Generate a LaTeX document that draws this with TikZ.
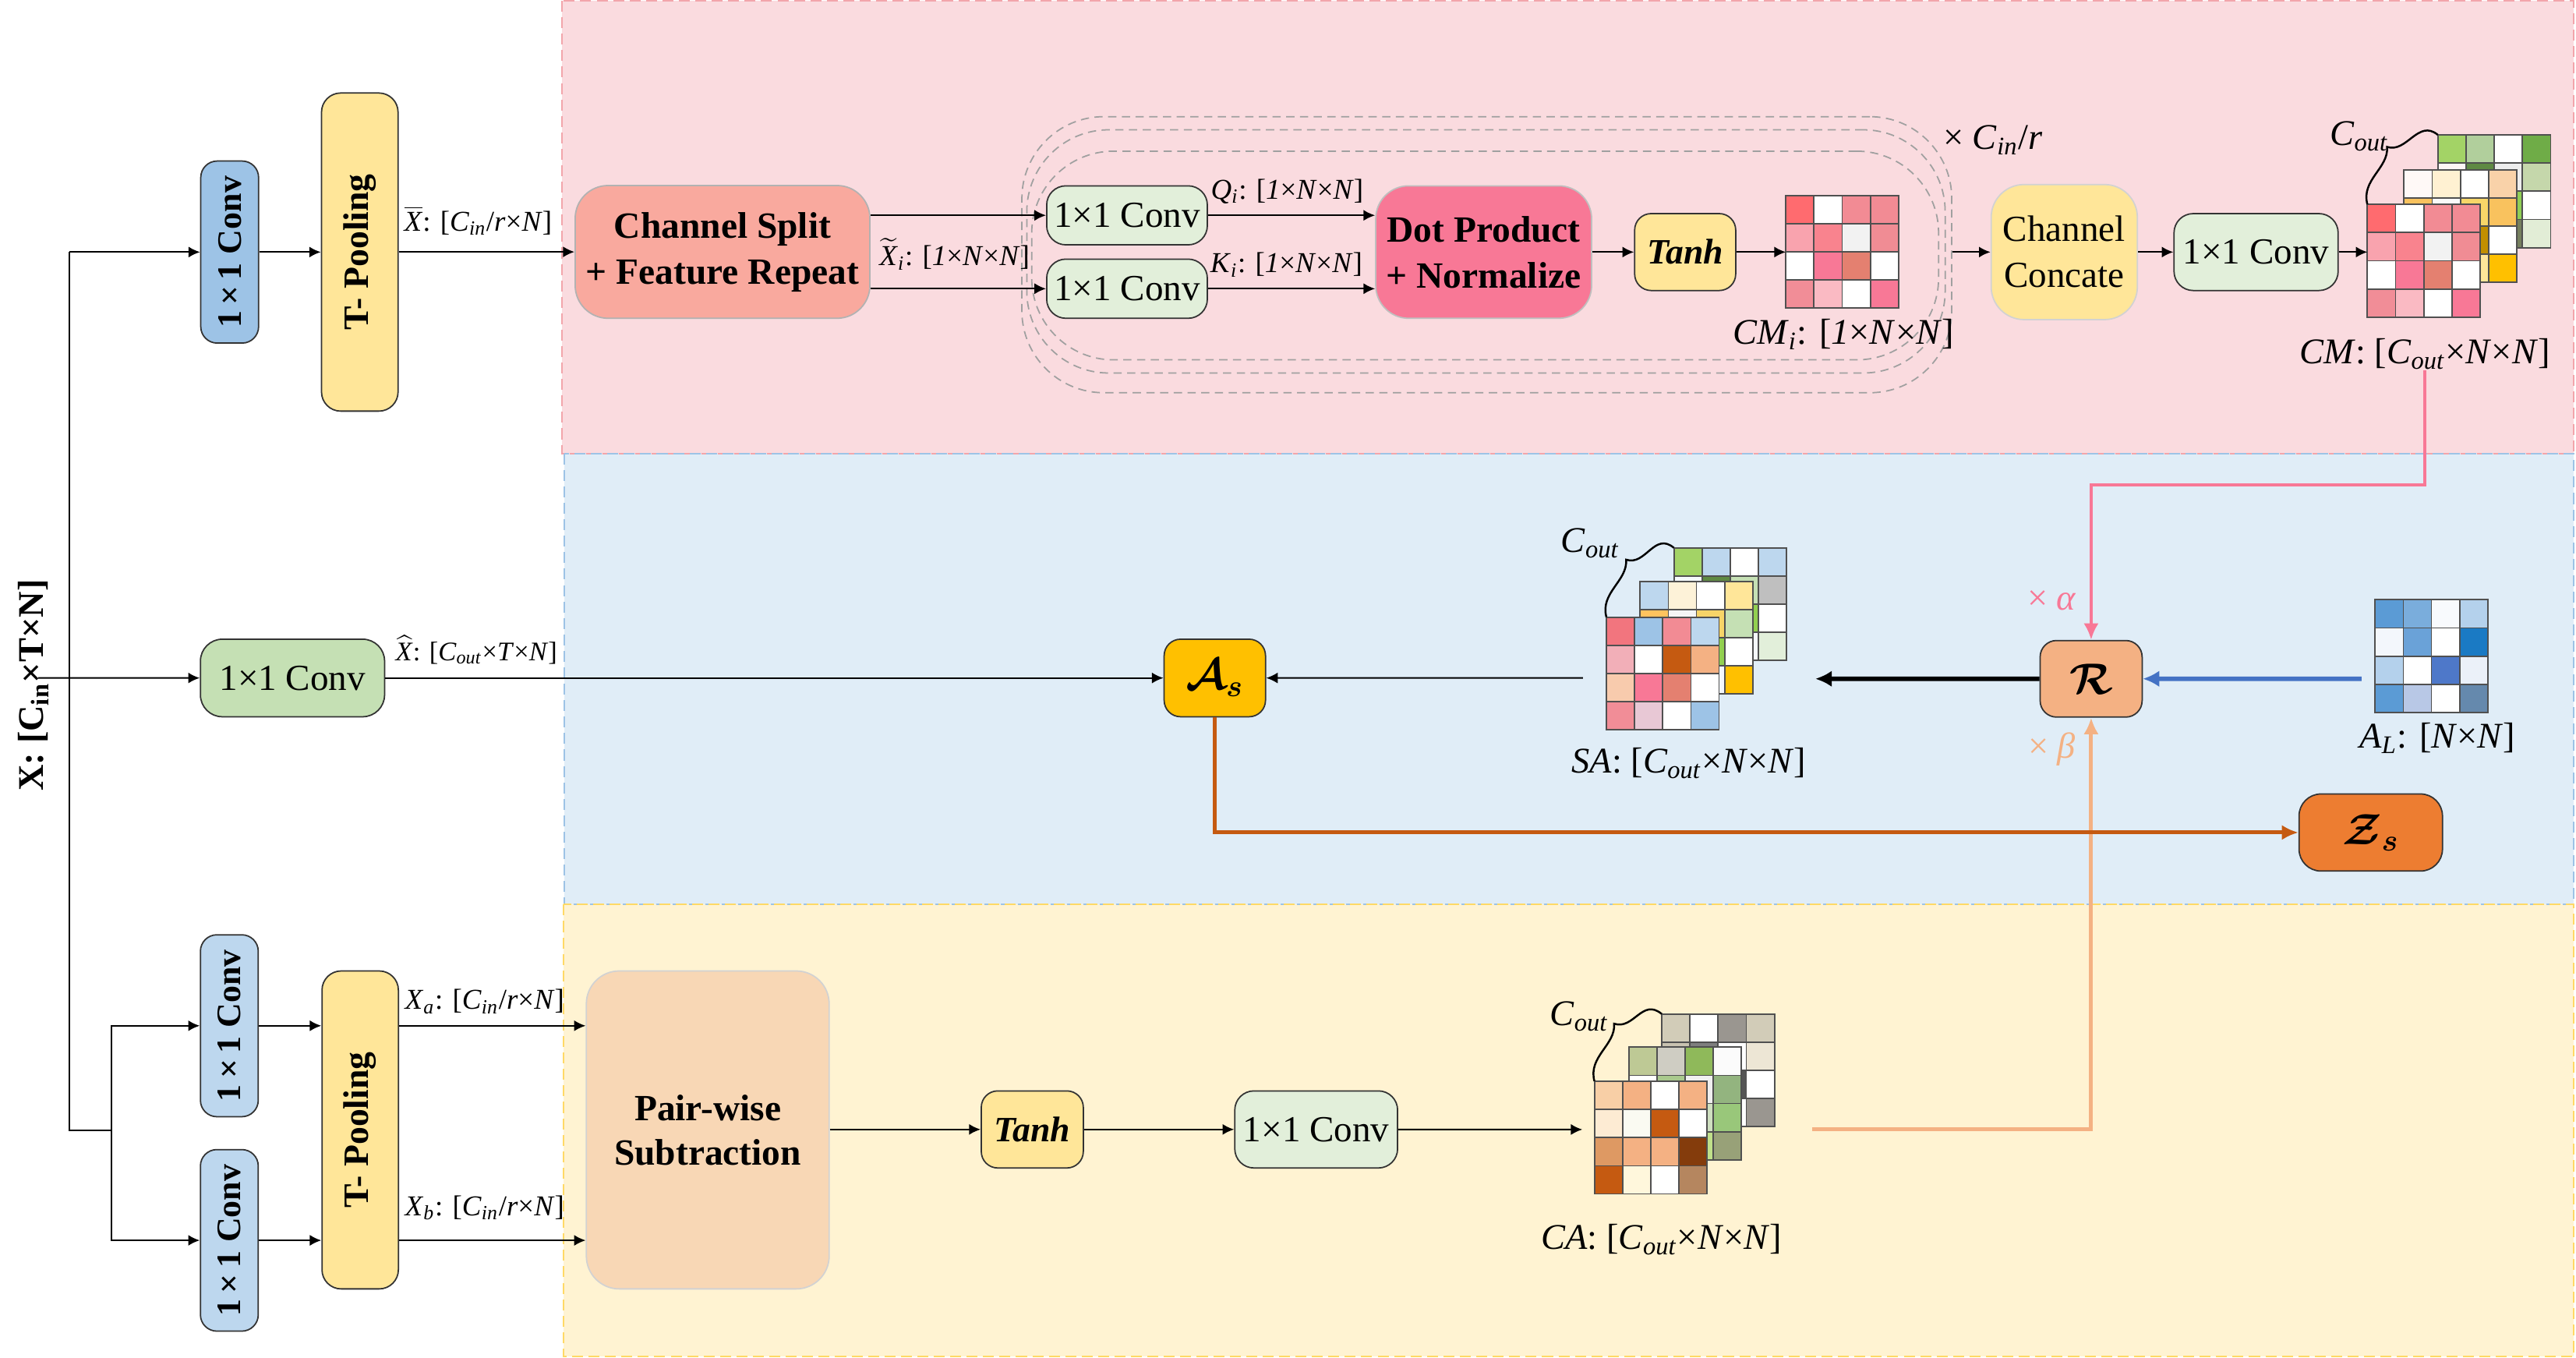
\RequirePackage{fix-cm}
\documentclass[tikz,border=0pt]{standalone}
\usepackage{amsmath}
\usepackage{fontspec}
\setmainfont{Liberation Serif}
\usetikzlibrary{arrows.meta,calc}

\definecolor{pinkbg}{HTML}{FADBDF}
\definecolor{pinkbd}{HTML}{F2A5AB}
\definecolor{bluebg}{HTML}{E0EDF7}
\definecolor{bluebd}{HTML}{9DC3E6}
\definecolor{yellowbg}{HTML}{FFF3D2}
\definecolor{yellowbd}{HTML}{FFD966}
\definecolor{convblue}{HTML}{9DC3E6}
\definecolor{convlblue}{HTML}{BDD7EE}
\definecolor{poolyel}{HTML}{FFE699}
\definecolor{splitred}{HTML}{F9A99E}
\definecolor{gconvc}{HTML}{E2EFDA}
\definecolor{mconvc}{HTML}{C5E0B4}
\definecolor{dotc}{HTML}{F87896}
\definecolor{asc}{HTML}{FFC000}
\definecolor{rc}{HTML}{F4B183}
\definecolor{zc}{HTML}{ED7D31}
\definecolor{pwc}{HTML}{F8D7B5}
\definecolor{pinkline}{HTML}{F87896}
\definecolor{blueline}{HTML}{4472C4}
\definecolor{brownline}{HTML}{C55A11}
\definecolor{peachline}{HTML}{F4B183}
\definecolor{cellline}{HTML}{505050}
\definecolor{repgray}{HTML}{A0A0A0}

\newcommand\ii[1]{\textit{#1}}
\newcommand\sbi[1]{\textsubscript{\textit{#1}}}
\def\un{0.021078cm}
\def\cs{17.15}
\newcommand\bx[7]{\node[#6, minimum width={(#4-#2)*\un}, minimum height={(#5-#3)*\un}] (#1) at ({(#2+#4)/2},{(#3+#5)/2}) {#7};}
\newcommand\mat[4]{%
  \node[inner sep=0pt, outer sep=0pt, minimum width={4*\cs*\un}, minimum height={4*\cs*\un}] (#1) at ({#2+2*\cs},{#3+2*\cs}) {};
  \foreach \cc [count=\nn from 0] in {#4}{%
    \pgfmathtruncatemacro\rr{\nn/4}%
    \pgfmathtruncatemacro\kk{mod(\nn,4)}%
    \edef\tmp{\noexpand\definecolor{tmpc}{HTML}{\cc}}\tmp
    \filldraw[fill=tmpc, draw=cellline, line width=0.5pt] ({#2+\kk*\cs},{#3+\rr*\cs}) rectangle ++(\cs,\cs);
  }}
\newcommand\squig[2]{\draw[line width=0.7pt] (#1.north west) .. controls +(-4,-15) and +(1,13) .. ($(#1.north west)+(12,-35)$) .. controls +(12,4) and +(-12,-10) .. (#2.north west);}

\tikzset{
  every node/.style={inner sep=0pt},
  fb/.style={font=\fontsize{13.5}{16.8}\selectfont\bfseries},
  fr/.style={font=\fontsize{13.4}{16.8}\selectfont},
  fs/.style={font=\fontsize{10.5}{12}\selectfont},
  fm/.style={font=\fontsize{13.2}{15}\selectfont},
  fcal/.style={font=\fontsize{16}{18}\selectfont},
  bconv/.style={fill=convblue, draw=black!80, line width=0.5pt, rounded corners=6pt, font=\fontsize{12.5}{14}\selectfont\bfseries},
  lconv/.style={bconv, fill=convlblue},
  pool/.style={fill=poolyel, draw=black!80, line width=0.5pt, rounded corners=7pt, font=\fontsize{13}{15}\selectfont\bfseries},
  splitbox/.style={fill=splitred, draw=gray!60, line width=0.5pt, rounded corners=12pt, fb, align=center},
  gconv/.style={fill=gconvc, draw=black!80, line width=0.5pt, rounded corners=7pt, fr},
  mconv/.style={gconv, fill=mconvc, rounded corners=8pt},
  dotbox/.style={fill=dotc, draw=gray!50, line width=0.5pt, rounded corners=12pt, fb, align=center},
  tanhbox/.style={fill=poolyel, draw=black!80, line width=0.5pt, rounded corners=6pt, font=\fontsize{13}{15}\selectfont\bfseries\itshape},
  catbox/.style={fill=poolyel, draw=gray!35, line width=0.5pt, rounded corners=12pt, fr, align=center},
  pwbox/.style={fill=pwc, draw=gray!35, line width=0.5pt, rounded corners=12pt, font=\fontsize{13.5}{16.2}\selectfont\bfseries, align=center},
  asbox/.style={fill=asc, draw=black!80, line width=0.5pt, rounded corners=6pt, fcal},
  rbox/.style={fill=rc, draw=black!80, line width=0.5pt, rounded corners=6pt, fcal},
  zbox/.style={fill=zc, draw=black!80, line width=0.5pt, rounded corners=8pt, fcal},
  repbox/.style={draw=repgray, line width=0.5pt, dash pattern=on 3pt off 2pt, rounded corners=1.05cm},
  ln/.style={line width=0.6pt},
  arr/.style={ln, -{Latex[length=4.2pt,width=4pt]}},
  thickarr/.style={line width=1.6pt, -{Latex[length=6pt,width=6pt]}},
  bluearr/.style={blueline, line width=1.6pt, -{Latex[length=6pt,width=6pt]}},
  pinkarr/.style={pinkline, line width=1.3pt, -{Latex[length=6pt,width=5.5pt]}},
  brownarr/.style={brownline, line width=1.4pt, -{Latex[length=6pt,width=5.5pt]}},
  peacharr/.style={peachline, line width=1.4pt, -{Latex[length=6pt,width=5.5pt]}},
}

\begin{document}
\begin{tikzpicture}[x=\un, y=-\un]
\useasboundingbox (0,0) rectangle (1568,826);

% background regions
\fill[pinkbg] (342,0.5) rectangle (1566.5,276);
\fill[bluebg] (343.5,276) rectangle (1566.5,550.5);
\fill[yellowbg] (343,550.5) rectangle (1566.5,825.5);
\draw[pinkbd, line width=0.6pt, dash pattern=on 4pt off 2pt] (342,0.5) rectangle (1566.5,276);
\draw[bluebd, line width=0.6pt, dash pattern=on 4pt off 2pt] (343.5,276) rectangle (1566.5,550.5);
\draw[yellowbd, line width=0.6pt, dash pattern=on 4pt off 2pt] (343,550.5) rectangle (1566.5,825.5);

% repeated block outlines
\bx{rep1}{622}{71}{1188}{239}{repbox}{}
\bx{rep2}{625}{79}{1184}{227}{repbox}{}
\bx{rep3}{628}{92}{1180}{219}{repbox}{}

% boxes - top branch
\bx{conv1}{122.2}{98}{157.4}{208.8}{bconv}{\rotatebox{90}{1\,×\,1 Conv}}
\bx{pool1}{195.7}{56.6}{242.3}{250.2}{pool}{\rotatebox{90}{T- Pooling}}
\bx{cs}{350.1}{112.9}{529.5}{193.7}{splitbox}{Channel Split\\+ Feature Repeat}
\bx{qconv}{637.1}{113.1}{734.9}{149}{gconv}{1×1 Conv}
\bx{kconv}{637.1}{157.7}{734.9}{193.7}{gconv}{1×1 Conv}
\bx{dot}{837.4}{113.1}{968.8}{193.7}{dotbox}{Dot Product\\+ Normalize}
\bx{tanh1}{995}{130}{1056.5}{176.8}{tanhbox}{Tanh}
\bx{concat}{1212}{112.3}{1301}{194.5}{catbox}{Channel\\Concate}
\bx{conv2}{1323.3}{130}{1423.2}{176.8}{gconv}{1×1 Conv}

% middle branch
\bx{convm}{122}{389}{234.1}{436.2}{mconv}{1×1 Conv}
\bx{As}{708.6}{389}{770.3}{436.2}{asbox}{$\boldsymbol{\mathcal{A}}_{\boldsymbol{s}}$}
\bx{R}{1241.8}{389.8}{1303.9}{436.4}{rbox}{$\boldsymbol{\mathcal{R}}$}
\bx{Zs}{1399.4}{483.2}{1486.7}{530.1}{zbox}{$\boldsymbol{\mathcal{Z}}_{\boldsymbol{s}}$}

% bottom branch
\bx{conva}{122}{568.9}{157.2}{679.6}{lconv}{\rotatebox{90}{1\,×\,1 Conv}}
\bx{convb}{122}{699.6}{157.2}{810.1}{lconv}{\rotatebox{90}{1\,×\,1 Conv}}
\bx{pool2}{196}{590.9}{242.5}{784.4}{pool}{\rotatebox{90}{T- Pooling}}
\bx{pw}{356.9}{590.9}{504.7}{784.4}{pwbox}{Pair-wise\\Subtraction}
\bx{tanh2}{597.3}{663.9}{659.4}{710.8}{tanhbox}{Tanh}
\bx{conv3}{751.6}{663.9}{850.7}{710.8}{gconv}{1×1 Conv}

% matrices
\mat{cmi}{1087}{118.9}{FF6B6F,FFFFFF,F28B94,F28B94,F9A3AE,F9838E,F2F2F2,F08C94,FFFFFF,F87896,E48070,FFFFFF,F18D97,FABAC3,FFFFFF,F87896}
\mat{cmb}{1483.9}{82.1}{A3D366,B1CF9C,FFFFFF,6FAC47,FFF5F5,5F8A43,EDEDED,C5D7AB,C5E0B4,8FCF55,8FCF55,FFFFFF,A9D18E,76805E,76805E,E2EDD6}
\mat{cmm}{1463.3}{103.3}{FFF9F7,FFF1D2,FFFFFF,F9D2A9,F9C25E,FAFAFA,F8D668,F9C25E,FFE699,F4B183,C28F00,FFFFFF,FFF2CC,FFF0F0,FFE699,FFC000}
\mat{cmf}{1441}{124.4}{FF6B6F,FFFFFF,F28B94,F28B94,F9A3AE,F9838E,F2F2F2,F08C94,FFFFFF,F87896,E48070,FFFFFF,F18D97,FABAC3,FFFFFF,F87896}
\mat{sab}{1018.9}{333.4}{A3D366,BDD7EE,FFFFFF,BDD7EE,F5F9FC,5F8A43,C5E0B4,BFBFBF,9DC3E6,92D050,92D050,FFFFFF,F5F9FC,C5E0B4,F5F8FC,E2EFDA}
\mat{sam}{998.3}{353.8}{BDD7EE,FDF2D8,FFFFFF,FFE699,FFC35E,F5F5F5,F7D468,C5E0B4,F4B183,BDD7EE,92D050,FFFFFF,FFE699,F5F8FC,F5F8FC,FFC000}
\mat{saf}{977.8}{375.6}{F2757E,9DC3E6,F28B94,BDD7EE,F2AFB8,FFFFFF,C55A11,F4B183,F8CBAD,F87896,E48070,FFFFFF,F18D97,E8C8D5,FFFFFF,9DC3E6}
\mat{cab}{1011.5}{617.1}{D2CCB8,FFFFFF,9A9690,D2CCB8,C8C2B0,7F7F7F,FFFFFF,EDE6D5,AFABA0,6E6E6E,555555,FFFFFF,D2CCB8,C8C2B0,FFFFFF,9A9690}
\mat{cam}{991.4}{637.3}{BEC995,CFCDC3,8FB95A,FBFBFB,FFFFFF,A9C98D,F0F0F0,93B47F,D9D9D9,C5E0B4,CFE0C0,99C77A,E2EFDA,C0E08A,C0E08A,98A178}
\mat{caf}{970.5}{658}{F8CFA6,F4B183,FFFFFF,F4B183,FDEBD3,FAFAF2,C55A11,FFFFFF,DE9963,F4B183,F4B183,843C0C,C55A11,FFF7DC,FFFFFF,B5865F}
\mat{al}{1445.7}{365}{5B9BD5,7AADDC,F8FAFD,B4D1EC,F3F7FC,6AA2D8,FFFFFF,1A7AC4,B4D1EC,FFFFFF,4E78C9,EBF1F9,5B9BD5,B8C8E6,FFFFFF,6589AD}

\squig{cmf}{cmb}
\squig{saf}{sab}
\squig{caf}{cab}

% labels
\node[rotate=90, font=\fontsize{13.2}{15}\selectfont\bfseries] (xlab) at (20.5,417) {X: [C\textsubscript{in}×T×N]};
\node[fs] (xbar) at (291,134.2) {$\overline{\mbox{\ii{X}}}$: [\ii{C}\sbi{in}/\ii{r}×\ii{N}]};
\node[fs] (xtil) at (581,154.6) {$\widetilde{\mbox{\ii{X}}}$\sbi{i}: [\ii{1}×\ii{N}×\ii{N}]};
\node[fs] (qlab) at (783.5,116.5) {\ii{Q}\sbi{i}: [\ii{1}×\ii{N}×\ii{N}]};
\node[fs] (klab) at (783,161.2) {\ii{K}\sbi{i}: [\ii{1}×\ii{N}×\ii{N}]};
\node[fm] (cmilab) at (1122,203.5) {\ii{CM}\sbi{i}: [\ii{1}×\ii{N}×\ii{N}]};
\node[fm] (replab) at (1213,85) {× \ii{C}\sbi{in}/\ii{r}};
\node[fm] (coutcm) at (1436,83) {\ii{C}\sbi{out}};
\node[fm] (cmlab) at (1476,215.5) {\ii{CM}: [\ii{C}\sbi{out}×\ii{N}×\ii{N}]};
\node[font=\fontsize{9.8}{11}\selectfont] (xhat) at (290,395.5) {$\widehat{\mbox{\ii{X}}}$: [\ii{C}\sbi{out}×\ii{T}×\ii{N}]};
\node[fm] (coutsa) at (968,330.4) {\ii{C}\sbi{out}};
\node[fm] (salab) at (1028,464.3) {\ii{SA}: [\ii{C}\sbi{out}×\ii{N}×\ii{N}]};
\node[fm] (allab) at (1483.7,449.3) {\ii{A}\sbi{L}: [\ii{N}×\ii{N}]};
\node[fm, text=pinkline] (alpha) at (1249,365.3) {× \ii{α}};
\node[fm, text=peachline] (beta) at (1249,456) {× \ii{β}};
\node[fm] (coutca) at (961.3,618.5) {\ii{C}\sbi{out}};
\node[fm] (calab) at (1011.3,754.5) {\ii{CA}: [\ii{C}\sbi{out}×\ii{N}×\ii{N}]};
\node[fs] (xa) at (295,609.6) {\ii{X}\sbi{a}: [\ii{C}\sbi{in}/\ii{r}×\ii{N}]};
\node[fs] (xb) at (295,735) {\ii{X}\sbi{b}: [\ii{C}\sbi{in}/\ii{r}×\ii{N}]};

% free ends
\coordinate (vtop) at (42.3,153.4);
\coordinate (vbot) at (42.3,688);
\coordinate (vbr) at (67.9,688);
\coordinate (xin) at (23.2,412.6);
\coordinate (pkc) at (0,295);
\coordinate (sal) at (963.5,412.6);
\coordinate (sar) at (1105,413.1);
\coordinate (alw) at (1437.5,413.1);
\coordinate (capeach) at (1103,687.4);
\coordinate (caw) at (963.2,687.4);

% connectors
\draw[ln] (vtop) -- (vbot) -- (vbr);
\draw[arr] (vtop) -- (conv1.west);
\draw[arr] (vbr) |- (conva.west);
\draw[arr] (vbr) |- (convb.west);
\draw[arr] (xin) -- (convm.west);

\draw[arr] (conv1.east) -- (pool1.west |- conv1.east);
\draw[arr] (pool1.east |- cs.west) -- (cs.west);
\draw[arr] (cs.east |- qconv.west) -- (qconv.west);
\draw[arr] (cs.east |- kconv.west) -- (kconv.west);
\draw[arr] (qconv.east) -- (dot.west |- qconv.east);
\draw[arr] (kconv.east) -- (dot.west |- kconv.east);
\draw[arr] (dot.east |- tanh1.west) -- (tanh1.west);
\draw[arr] (tanh1.east) -- (cmi.west |- tanh1.east);
\draw[arr] (rep1.east |- concat.west) -- (concat.west);
\draw[arr] (concat.east |- conv2.west) -- (conv2.west);
\draw[arr] (conv2.east) -- (cmf.west |- conv2.east);

\draw[pinkarr] (cmlab.south) |- (R.north |- pkc) -- (R.north);
\draw[arr] (convm.east) -- (As.west);
\draw[arr] (sal) -- (As.east);
\draw[thickarr] (R.west) -- (sar);
\draw[bluearr] (alw) -- (R.east);
\draw[peacharr] (capeach) -| (R.south);
\draw[brownarr] (As.south) |- (Zs.west);

\draw[arr] (conva.east) -- (pool2.west |- conva.east);
\draw[arr] (convb.east) -- (pool2.west |- convb.east);
\draw[arr] (pool2.east |- conva.east) -- (pw.west |- conva.east);
\draw[arr] (pool2.east |- convb.east) -- (pw.west |- convb.east);
\draw[arr] (pw.east |- tanh2.west) -- (tanh2.west);
\draw[arr] (tanh2.east) -- (conv3.west);
\draw[arr] (conv3.east) -- (caw);
\end{tikzpicture}
\end{document}
